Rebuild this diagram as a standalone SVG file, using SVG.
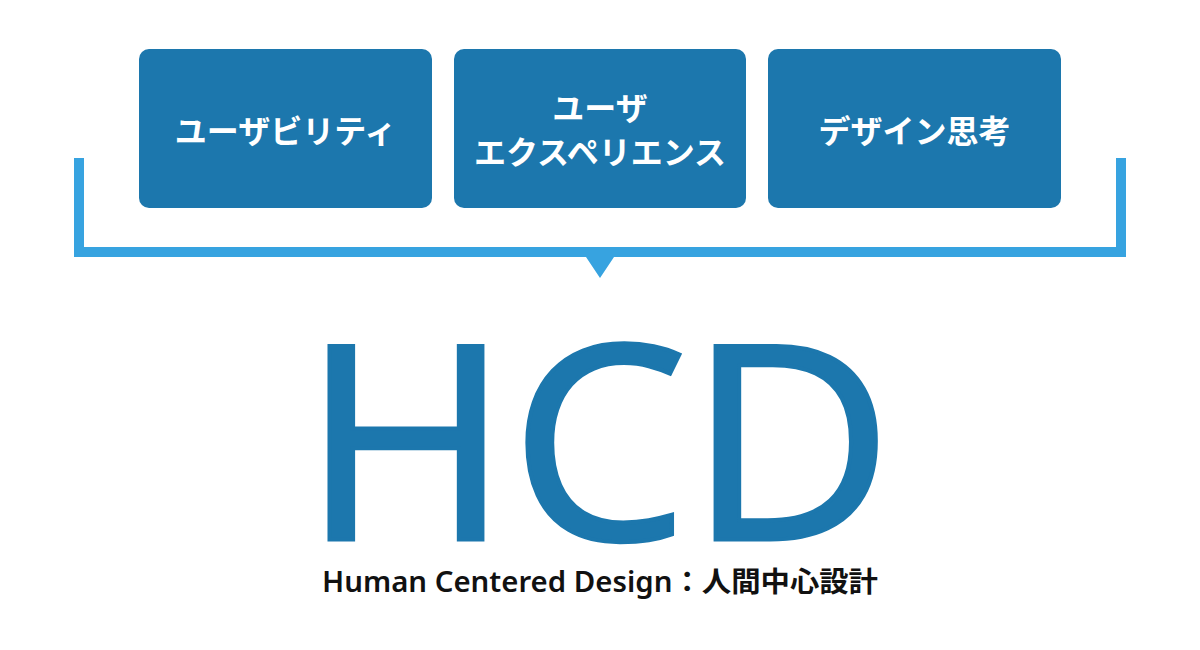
<svg xmlns="http://www.w3.org/2000/svg" width="1200" height="650" viewBox="0 0 1200 650">
<style>
.box{fill:#1c77ad}
.lbl{fill:#ffffff;font-family:"Noto Sans CJK JP","Noto Sans",sans-serif;font-weight:bold;font-size:32px;text-anchor:middle}
.br{fill:#37a3e0}
</style>
<rect width="1200" height="650" fill="#ffffff"/>
<g id="connectors">
<path class="br" d="M74 158 H84 V247 H1116 V158 H1126 V257 H614 L600 278 L586 257 H74 Z"/>
</g>
<g id="node-usability">
<rect class="box" x="139" y="49" width="293" height="159" rx="10"/>
<text class="lbl" x="285.5" y="143">ユーザビリティ</text>
</g>
<g id="node-ux">
<rect class="box" x="454" y="49" width="292" height="159" rx="10"/>
<text class="lbl" x="600" y="120">ユーザ</text>
<text class="lbl" x="600" y="164">エクスペリエンス</text>
</g>
<g id="node-design-thinking">
<rect class="box" x="768" y="49" width="293" height="159" rx="10"/>
<text class="lbl" x="914.5" y="143">デザイン思考</text>
</g>
<g id="node-hcd">
<text x="302" y="539.5" font-family="'Open Sans','Noto Sans',sans-serif" font-size="271" fill="#1c77ad" stroke="#1c77ad" stroke-width="4" stroke-linejoin="miter" textLength="591" lengthAdjust="spacingAndGlyphs">HCD</text>
<text x="322" y="592" font-family="'Noto Sans','Noto Sans CJK JP',sans-serif" font-weight="600" font-size="28" fill="#111111" textLength="556" lengthAdjust="spacingAndGlyphs">Human Centered Design：人間中心設計</text>
</g>
</svg>
